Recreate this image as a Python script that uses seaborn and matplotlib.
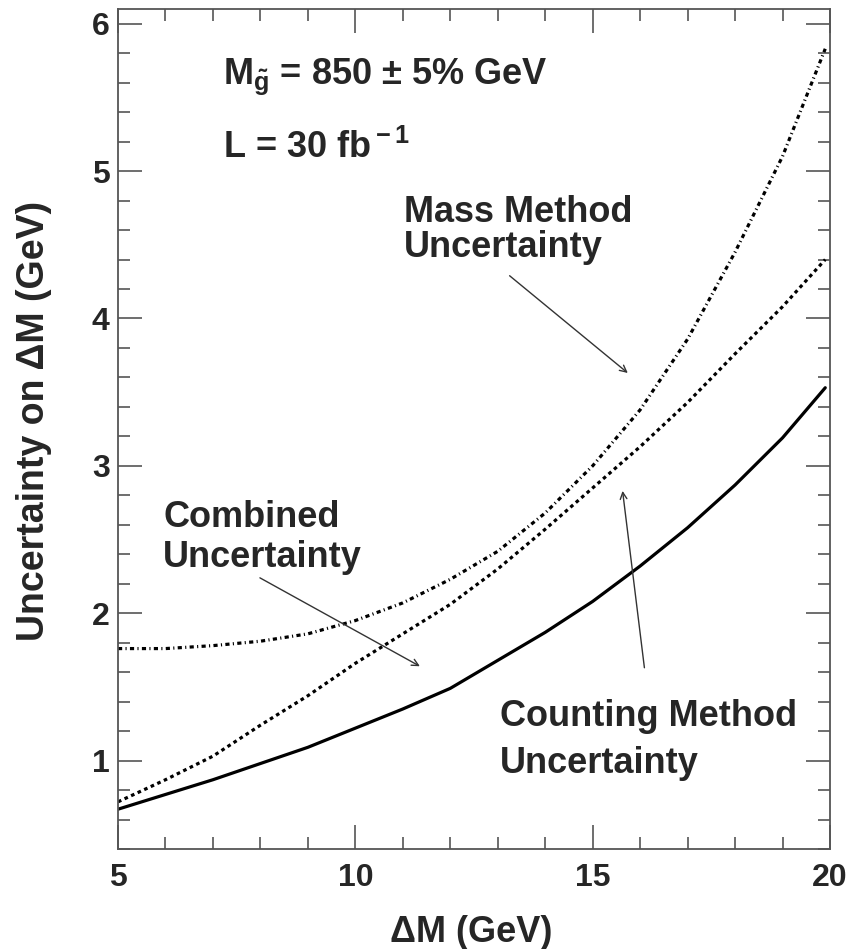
import numpy as np
import pandas as pd
import matplotlib
matplotlib.use("Agg")
import matplotlib.pyplot as plt
import seaborn as sns

# ---- data ----
dm = [5, 6, 7, 8, 9, 10, 11, 12, 13, 14, 15, 16, 17, 18, 19, 19.9]
counting = [0.67, 0.77, 0.87, 0.98, 1.09, 1.22, 1.35, 1.49, 1.68, 1.87, 2.08, 2.32, 2.58, 2.87, 3.19, 3.53]
combined = [0.72, 0.87, 1.03, 1.24, 1.44, 1.66, 1.86, 2.06, 2.30, 2.57, 2.85, 3.13, 3.43, 3.76, 4.08, 4.40]
mass = [1.76, 1.76, 1.78, 1.81, 1.86, 1.95, 2.07, 2.23, 2.42, 2.68, 3.00, 3.38, 3.86, 4.45, 5.10, 5.83]
series_names = ["Counting", "Combined", "Mass"]

x_ticks = [5, 10, 15, 20]
y_ticks = [1, 2, 3, 4, 5, 6]

sns.set_style("ticks")
plt.rcParams["font.family"] = ["Liberation Sans", "DejaVu Sans"]
plt.rcParams["font.weight"] = "bold"
plt.rcParams["mathtext.fontset"] = "custom"
plt.rcParams["mathtext.rm"] = "Liberation Sans:bold"
plt.rcParams["mathtext.bf"] = "Liberation Sans:bold"
plt.rcParams["mathtext.it"] = "Liberation Sans:bold"
plt.rcParams["lines.scale_dashes"] = False

df = pd.DataFrame({
    "dm": dm * 3,
    "val": counting + combined + mass,
    "series": sum([[s] * len(dm) for s in series_names], []),
})

fig = plt.figure(figsize=(8.61, 9.49), dpi=100)
ax = fig.add_axes([118 / 861, 1 - 849 / 949, (830 - 118) / 861, (849 - 9) / 949])

sns.lineplot(data=df, x="dm", y="val", hue="series", style="series",
             hue_order=series_names, style_order=series_names,
             palette=["black", "black", "black"],
             dashes={"Counting": "", "Combined": (2.6, 2.6), "Mass": (3.0, 2.4, 0.8, 2.4)},
             linewidth=2.3, legend=False, ax=ax)

ax.set_xlim(5, 20)
ax.set_ylim(0.4, 6.1)
ax.set_xticks(x_ticks)
ax.set_yticks(y_ticks)
ax.set_xticks(np.arange(5, 20.01, 1), minor=True)
ax.set_yticks(np.arange(0.4, 6.11, 0.2), minor=True)
ax.tick_params(which="both", direction="in", top=True, right=True, color="#555555", width=1.2,
               labelsize=23)
ax.tick_params(axis="y", pad=6)
ax.tick_params(axis="x", pad=10)
ax.tick_params(which="major", length=17)
ax.tick_params(which="minor", length=8.5)
for lab in ax.get_xticklabels() + ax.get_yticklabels():
    lab.set_fontweight("bold")
for sp in ax.spines.values():
    sp.set_color("#555555")
    sp.set_linewidth(1.3)

ax.set_xlabel("ΔM (GeV)", fontsize=26, fontweight="bold")
ax.set_ylabel("Uncertainty on ΔM (GeV)", fontsize=27, fontweight="bold")
ax.xaxis.set_label_coords(0.496, -0.10)
ax.yaxis.set_label_coords(-0.118, 0.51)
ax.xaxis.label.set_va("center")
ax.yaxis.label.set_va("center")

tk = dict(fontsize=26, fontweight="bold", va="center", ha="left")
ax.text(7.21, 5.64, r"M$_{\tilde{\rm g}}$ = 850 $\pm$ 5% GeV", **tk)
ax.text(7.21, 5.16, r"L = 30 fb$^{\rm -1}$", **tk)
ax.text(11.02, 4.72, "Mass Method", **tk)
ax.text(11.02, 4.48, "Uncertainty", **tk)
ax.text(5.95, 2.65, "Combined", **tk)
ax.text(5.95, 2.38, "Uncertainty", **tk)
ax.text(13.04, 1.30, "Counting Method", **tk)
ax.text(13.04, 0.98, "Uncertainty", **tk)

arrow = dict(arrowstyle="->", lw=1.0, color="#333333", mutation_scale=12, shrinkA=0, shrinkB=0)
ax.annotate("", xy=(15.74, 3.63), xytext=(13.25, 4.29), arrowprops=arrow)
ax.annotate("", xy=(11.36, 1.64), xytext=(7.99, 2.24), arrowprops=arrow)
ax.annotate("", xy=(15.63, 2.83), xytext=(16.09, 1.63), arrowprops=arrow)

fig.savefig("out.png", dpi=100)
